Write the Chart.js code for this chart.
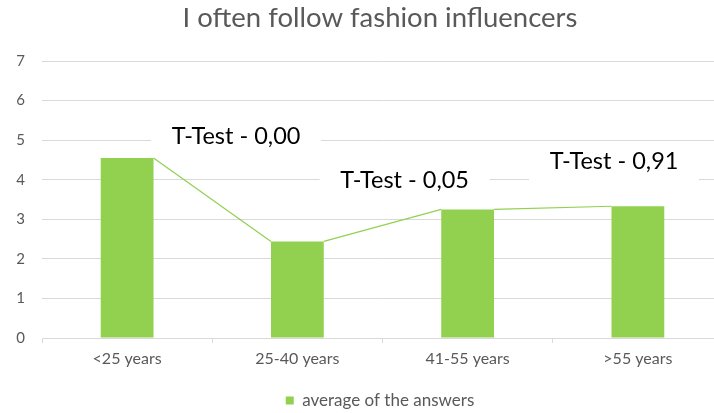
<!DOCTYPE html>
<html>
<head>
<meta charset="utf-8">
<script src="https://cdn.jsdelivr.net/npm/chart.js@4.4.1/dist/chart.umd.min.js"></script>
<style>
  html, body { margin: 0; padding: 0; background: #fff; overflow: hidden; }
  #wrap { width: 760px; height: 413px; }
</style>
</head>
<body>
<div id="wrap"><canvas id="influencer-chart"></canvas></div>
<script>
var ageGroups = ['<25 years', '25-40 years', '41-55 years', '>55 years'];
var averageAnswers = [4.55, 2.44, 3.25, 3.33];
var yTicks = [0, 1, 2, 3, 4, 5, 6, 7];
var tTestLabels = ['T-Test - 0,00', 'T-Test - 0,05', 'T-Test - 0,91'];
// where each t-test label sits, in category index / answer units
var tTestAnchors = [[0.64, 5.09], [1.63, 3.98], [2.86, 4.47]];

var green = '#92d050';
var gray = '#595959';

// white boxes with the t-test text, drawn over the grid
var tTestPlugin = {
    id: 'tTest',
    beforeDatasetsDraw: function(chart) {
        var ctx = chart.ctx;
        var x = chart.scales.x, y = chart.scales.y;
        ctx.save();
        ctx.font = '23.5px Lato';
        ctx.textAlign = 'center';
        ctx.textBaseline = 'middle';
        tTestLabels.forEach(function(label, i) {
            var px = x.getPixelForValue(tTestAnchors[i][0]);
            var py = y.getPixelForValue(tTestAnchors[i][1]);
            ctx.fillStyle = '#ffffff';
            ctx.fillRect(px - 85, py - 20, 170, 39);
            ctx.fillStyle = '#000000';
            ctx.fillText(label, px, py);
        });
        ctx.restore();
    },
    // thin connector from the top corner of one bar to the next
    afterDatasetsDraw: function(chart) {
        var bars = chart.getDatasetMeta(0).data;
        var ctx = chart.ctx;
        ctx.save();
        ctx.strokeStyle = green;
        ctx.lineWidth = 1.2;
        for (var i = 0; i < bars.length - 1; i++) {
            var a = bars[i], b = bars[i + 1];
            ctx.beginPath();
            ctx.moveTo(a.x + a.width / 2, a.y);
            ctx.lineTo(b.x - b.width / 2, b.y);
            ctx.stroke();
        }
        ctx.restore();
    }
};

new Chart(document.getElementById('influencer-chart'), {
    type: 'bar',
    data: {
        labels: ageGroups,
        datasets: [{
            label: 'average of the answers',
            data: averageAnswers,
            backgroundColor: green,
            borderWidth: 0,
            categoryPercentage: 1,
            barPercentage: 0.31
        }]
    },
    options: {
        responsive: true,
        maintainAspectRatio: false,
        animation: false,
        layout: { padding: { left: 0, right: 0, top: 2, bottom: -6 } },
        plugins: {
            title: {
                display: true,
                text: 'I often follow fashion influencers',
                color: gray,
                font: { family: 'Lato', size: 27.5, weight: 'normal' },
                padding: { top: 0, bottom: 26 }
            },
            legend: {
                position: 'bottom',
                labels: {
                    color: gray,
                    font: { family: 'Lato', size: 17 },
                    boxWidth: 8,
                    boxHeight: 8,
                    padding: 4
                }
            },
            tooltip: { enabled: false }
        },
        scales: {
            x: {
                offset: true,
                afterFit: function(scale) { scale.height = 50; },
                grid: { drawOnChartArea: false, color: '#d9d9d9', tickLength: 5, offset: true },
                border: { color: '#d9d9d9' },
                ticks: { color: gray, font: { family: 'Lato', size: 16 }, padding: 6 }
            },
            y: {
                min: 0,
                max: 7,
                afterBuildTicks: function(scale) {
                    scale.ticks = yTicks.map(function(v) { return { value: v }; });
                },
                afterFit: function(scale) { scale.width = 42; },
                grid: { color: '#d9d9d9', drawTicks: false },
                border: { display: false },
                ticks: { color: gray, font: { family: 'Lato', size: 15 }, padding: 17 }
            },
            // empty right-hand axis: the plot stops short of the canvas edge,
            // while title and legend stay centred on the whole canvas
            yRight: {
                position: 'right',
                min: 0,
                max: 7,
                afterFit: function(scale) { scale.width = 37; },
                grid: { drawOnChartArea: false, drawTicks: false },
                border: { display: false },
                ticks: { display: false }
            }
        }
    },
    plugins: [tTestPlugin]
});
</script>
</body>
</html>
